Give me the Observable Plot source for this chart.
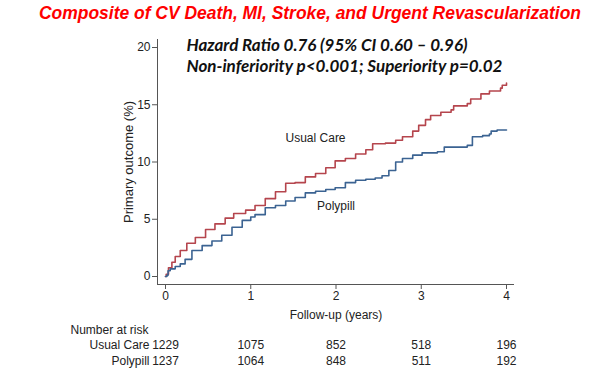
<!DOCTYPE html>
<html>
<head>
<meta charset="utf-8">
<script src="https://cdn.jsdelivr.net/npm/d3@7"></script>
<script src="https://cdn.jsdelivr.net/npm/@observablehq/plot@0.6"></script>
<style>
  html, body { margin: 0; padding: 0; background: #fff; }
</style>
</head>
<body>
<div id="chart"></div>
<script>
// ---- Data ----
const title = "Composite of CV Death, MI, Stroke, and Urgent Revascularization";
const hrLines = ["Hazard Ratio 0.76 (95% CI 0.60 \u2013 0.96)", "Non-inferiority p<0.001; Superiority p=0.02"];
const groups = ["Usual Care", "Polypill"];

// Kaplan-Meier cumulative incidence (%)
const ucTime = [0, 0.008, 0.035, 0.075, 0.114, 0.173, 0.25, 0.35, 0.47, 0.58, 0.70, 0.80, 0.94, 1.05, 1.17, 1.29, 1.41, 1.52, 1.64, 1.76, 1.88, 1.99, 2.11, 2.23, 2.35, 2.43, 2.58, 2.70, 2.78, 2.90, 2.97, 3.05, 3.11, 3.23, 3.35, 3.38, 3.54, 3.58, 3.70, 3.80, 3.93, 3.95, 4.00];
const ucPct  = [0, 0.2, 0.76, 1.25, 1.75, 2.27, 2.9, 3.4, 4.1, 4.6, 5.1, 5.5, 5.8, 6.2, 6.8, 7.4, 8.15, 8.2, 8.7, 9.0, 9.5, 10.1, 10.3, 10.7, 11.07, 11.6, 11.65, 11.9, 12.2, 12.7, 13.2, 13.7, 14.06, 14.35, 14.55, 14.9, 15.1, 15.5, 15.95, 16.2, 16.45, 16.7, 16.9];
const ppTime = [0, 0.016, 0.03, 0.055, 0.114, 0.173, 0.23, 0.31, 0.43, 0.545, 0.66, 0.78, 0.90, 1.00, 1.05, 1.17, 1.29, 1.41, 1.52, 1.64, 1.76, 1.88, 1.99, 2.11, 2.23, 2.35, 2.46, 2.54, 2.62, 2.70, 2.78, 2.90, 3.01, 3.19, 3.27, 3.54, 3.60, 3.72, 3.80, 3.82, 3.89, 4.00];
const ppPct  = [0, 0.1, 0.5, 0.67, 0.87, 1.1, 1.5, 2.27, 2.7, 3.1, 3.6, 4.3, 4.9, 5.2, 5.4, 6.0, 6.2, 6.6, 6.9, 7.3, 7.45, 7.6, 7.75, 8.2, 8.4, 8.5, 8.6, 8.8, 9.26, 10.0, 10.3, 10.6, 10.8, 10.9, 11.3, 11.45, 12.2, 12.3, 12.45, 12.7, 12.8, 12.8];

const riskYears = [0, 1, 2, 3, 4];
const ucRisk = [1229, 1075, 852, 518, 196];
const ppRisk = [1237, 1064, 848, 511, 192];
const xTicks = [0, 1, 2, 3, 4];
const yTicks = [0, 5, 10, 15, 20];
const curveLabels = [
  {group: "Usual Care", t: 1.76, v: 12.1},
  {group: "Polypill", t: 2.0, v: 6.15}
];

// ---- Build tables ----
const ucData = ucTime.map((t, i) => ({group: "Usual Care", t, v: ucPct[i]}));
const ppData = ppTime.map((t, i) => ({group: "Polypill", t, v: ppPct[i]}));
const colors = {"Usual Care": "#b5454d", "Polypill": "#3b6392"};
const axisColor = "#555";
const textColor = "#222";
const mid = {lineAnchor: "middle", fontSize: 12, fill: textColor};

const chart = Plot.plot({
  width: 600,
  height: 380,
  marginLeft: 165,
  marginRight: 94,
  marginTop: 47,
  marginBottom: 104,
  style: {fontFamily: "'Liberation Sans', Arial, sans-serif", fontSize: "12px", color: textColor, background: "#fff"},
  x: {domain: [0, 4]},
  y: {domain: [0, 20]},
  marks: [
    Plot.frame({anchor: "left", dx: -8, insetTop: -8, insetBottom: -8, stroke: axisColor}),
    Plot.frame({anchor: "bottom", dy: 8, insetLeft: -8, insetRight: -7, stroke: axisColor}),
    Plot.axisY(yTicks, {tickSize: 5, dx: -8, tickPadding: 2, label: null, stroke: axisColor, fontSize: 12, fill: textColor}),
    Plot.axisX(xTicks, {tickSize: 5, dy: 8, tickPadding: 2, label: null, stroke: axisColor, fontSize: 12, fill: textColor}),
    Plot.text(["Primary outcome (%)"], {...mid, frameAnchor: "left", textAnchor: "middle", rotate: -90, dx: -37, fontSize: 13}),
    Plot.text(["Follow-up (years)"], {...mid, frameAnchor: "bottom", dy: 39}),
    Plot.line(ucData, {x: "t", y: "v", curve: "step-after", stroke: colors["Usual Care"], strokeWidth: 1.6}),
    Plot.line(ppData, {x: "t", y: "v", curve: "step-after", stroke: colors["Polypill"], strokeWidth: 1.6}),
    Plot.text(curveLabels, {...mid, x: "t", y: "v", text: "group"}),
    // risk table
    Plot.text(["Number at risk"], {...mid, frameAnchor: "bottom-left", textAnchor: "start", dx: -95, dy: 54}),
    Plot.text([groups[0]], {...mid, frameAnchor: "bottom-left", textAnchor: "end", dx: -16, dy: 69}),
    Plot.text([groups[1]], {...mid, frameAnchor: "bottom-left", textAnchor: "end", dx: -16, dy: 85}),
    Plot.text(riskYears, {...mid, x: d => d, text: (d, i) => String(ucRisk[i]), frameAnchor: "bottom", dy: 69}),
    Plot.text(riskYears, {...mid, x: d => d, text: (d, i) => String(ppRisk[i]), frameAnchor: "bottom", dy: 85}),
    // hazard ratio annotation
    Plot.text([hrLines.join("\n")], {frameAnchor: "top-left", textAnchor: "start", lineAnchor: "middle", dx: 21, dy: 7, lineHeight: 1.27,
      fontFamily: "Lato, 'Open Sans', sans-serif", fontWeight: "bold", fontStyle: "italic", fontSize: 17, fill: "#111"}),
    // title
    Plot.text([title], {frameAnchor: "top", lineAnchor: "middle", dx: -26, dy: -34, fontSize: 18, fontWeight: 900, fontStyle: "italic", fill: "#ff0000",
      fontFamily: "'Liberation Sans', Arial, sans-serif"})
  ]
});

document.getElementById("chart").appendChild(chart);
// fit title width to the reference's span
for (const t of chart.querySelectorAll("text")) {
  if (t.textContent === title) {
    t.setAttribute("textLength", 542);
    t.setAttribute("lengthAdjust", "spacingAndGlyphs");
  }
}
</script>
</body>
</html>
